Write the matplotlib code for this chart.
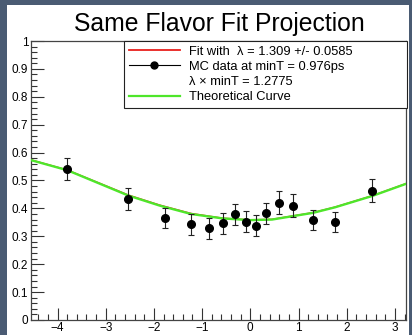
import matplotlib
matplotlib.use('Agg')
import matplotlib.pyplot as plt
from matplotlib.lines import Line2D
from matplotlib.patches import Rectangle
from matplotlib.ticker import MultipleLocator, FormatStrFormatter

plt.rcParams['font.family'] = ['Liberation Sans', 'DejaVu Sans']

# MC data points
mc_x = [-3.80, -2.53, -1.78, -1.23, -0.86, -0.57, -0.31, -0.09, 0.11, 0.33, 0.59, 0.89, 1.30, 1.76, 2.52]
mc_y = [0.540, 0.435, 0.365, 0.343, 0.329, 0.347, 0.379, 0.352, 0.338, 0.382, 0.421, 0.410, 0.358, 0.352, 0.463]
mc_err = [0.039, 0.039, 0.035, 0.037, 0.038, 0.037, 0.038, 0.037, 0.038, 0.037, 0.040, 0.040, 0.036, 0.035, 0.041]

# fit curve (red) and theoretical curve (green), nearly on top of each other
fit_x = [-4.55, -3.80, -2.53, -1.88, -1.23, -0.57, 0.00, 0.45, 1.30, 1.76, 2.52, 3.23]
fit_y = [0.574, 0.538, 0.448, 0.412, 0.382, 0.365, 0.359, 0.361, 0.385, 0.405, 0.445, 0.489]
theo_x = [-4.55, -3.80, -2.53, -1.88, -1.23, -0.57, 0.00, 0.45, 1.30, 1.76, 2.52, 3.23]
theo_y = [0.573, 0.537, 0.446, 0.410, 0.380, 0.364, 0.358, 0.360, 0.384, 0.404, 0.444, 0.488]

legend_labels = ['Fit with  \u03bb = 1.309 +/- 0.0585',
                 'MC data at minT = 0.976ps',
                 '\u03bb \u00d7 minT = 1.2775',
                 'Theoretical Curve']

W, H = 412, 335
fig = plt.figure(figsize=(W / 100, H / 100), dpi=100)
fig.patch.set_facecolor('#4a5b73')

# white canvas inside the dark frame
fig.patches.append(Rectangle((7 / W, 0), 402 / W, (H - 5) / H, transform=fig.transFigure,
                             facecolor='white', edgecolor='none', zorder=-5))

ax = fig.add_axes([31 / W, (H - 320) / H, (406 - 31) / W, (320 - 41) / H])
ax.set_facecolor('white')

ax.plot(fit_x, fit_y, color='#e8201c', lw=1.0, zorder=2)
ax.plot(theo_x, theo_y, color='#4ee62a', lw=1.7, zorder=3)
ax.errorbar(mc_x, mc_y, yerr=mc_err, fmt='o', color='black', ms=5.5,
            elinewidth=0.8, capsize=2, capthick=0.8, ecolor='#222222', zorder=4)

ax.set_xlim(-4.55, 3.23)
ax.set_ylim(0, 1)

# ROOT-like ticks
ax.xaxis.set_major_locator(MultipleLocator(1))
ax.xaxis.set_minor_locator(MultipleLocator(0.2))
ax.yaxis.set_major_locator(MultipleLocator(0.1))
ax.yaxis.set_minor_locator(MultipleLocator(0.02))
ax.yaxis.set_major_formatter(FormatStrFormatter('%g'))
ax.tick_params(which='both', direction='in', top=False, right=False, width=0.8, color='#333333')
ax.tick_params(which='major', length=9, labelsize=8.5)
ax.tick_params(which='minor', length=4.5)
ax.tick_params(axis='y', pad=2)
ax.tick_params(axis='x', pad=1.5)
for sp in ax.spines.values():
    sp.set_linewidth(0.9)
    sp.set_color('#444444')

# title
fig.text(219 / W, 1 - 24 / H, 'Same Flavor Fit Projection', ha='center', va='center', fontsize=17.8)

# legend
handles = [Line2D([], [], color='#e8201c', lw=1.3),
           Line2D([], [], color='black', lw=0.8, marker='o', ms=5),
           Line2D([], [], linestyle='none'),
           Line2D([], [], color='#4ee62a', lw=1.6)]
leg = ax.legend(handles, legend_labels, loc='upper left', mode='expand',
                bbox_to_anchor=(124 / W, 1 - 106 / H, (407 - 124) / W, 65 / H),
                bbox_transform=fig.transFigure, borderaxespad=0, fontsize=9.3,
                handlelength=4.0, handletextpad=0.7, labelspacing=0.25, borderpad=0.35,
                fancybox=False, framealpha=1, edgecolor='#222222', numpoints=1)
leg.get_frame().set_linewidth(0.8)

fig.savefig('out.png', dpi=100, facecolor=fig.get_facecolor())
